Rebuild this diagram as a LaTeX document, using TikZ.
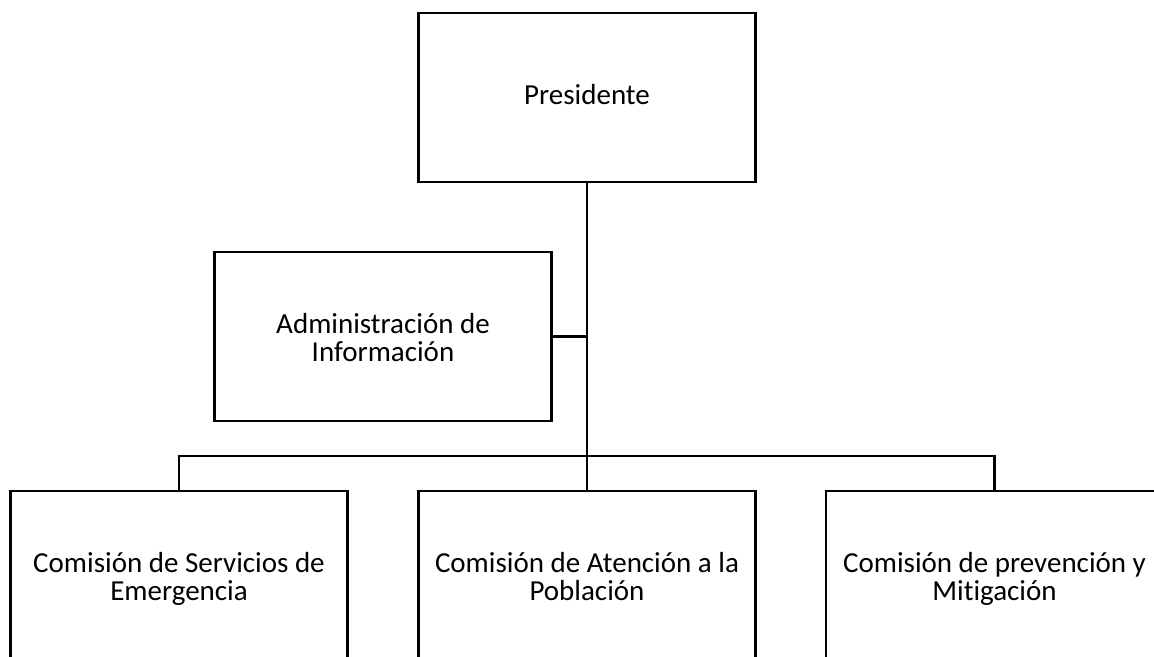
\documentclass[tikz,border=0pt]{standalone}
\usepackage{fontspec}
\setmainfont{Carlito}[Ligatures=CommonOff]
\newcommand{\lnstrut}{\rule[-7pt]{0pt}{35pt}}
\newcommand{\onestrut}{\rule[-7pt]{0pt}{27pt}}
\newcommand{\orgfont}{\fontsize{29}{28}\selectfont\lineskiplimit=-100pt\relax}
\begin{document}
\begin{tikzpicture}[x=1pt,y=-1pt,
  orgbox/.style={draw=black,line width=2.8pt,minimum width=337pt,minimum height=169pt,
    inner sep=0pt,align=center,font=\orgfont},
  conn/.style={draw=black,line width=2.8pt}]
\useasboundingbox (0,0) rectangle (1154,656);
\clip (0,0) rectangle (1154,656);
\fill[white] (0,0) rectangle (1154,656);
\node[orgbox] (pres) at (587,97.5) {\onestrut Presidente};
\node[orgbox] (admin) at (383,336.5) {\lnstrut Administración de\\\lnstrut Información};
\node[orgbox] (c1) at (179,575.5) {\lnstrut Comisión de Servicios de\\\lnstrut Emergencia};
\node[orgbox] (c2) at (587,575.5) {\lnstrut Comisión de Atención a la\\\lnstrut Población};
\node[orgbox] (c3) at (994.5,575.5) {\lnstrut Comisión de prevención y\\\lnstrut Mitigación};
\coordinate (j) at (587,456);
\coordinate (a) at (587,336.5);
\draw[conn] (pres.south) -- (j);
\draw[conn] (admin.east) -- (a);
\draw[conn] (c1.north) |- (j) -| (c3.north);
\draw[conn] (j) -- (c2.north);
\end{tikzpicture}
\end{document}
